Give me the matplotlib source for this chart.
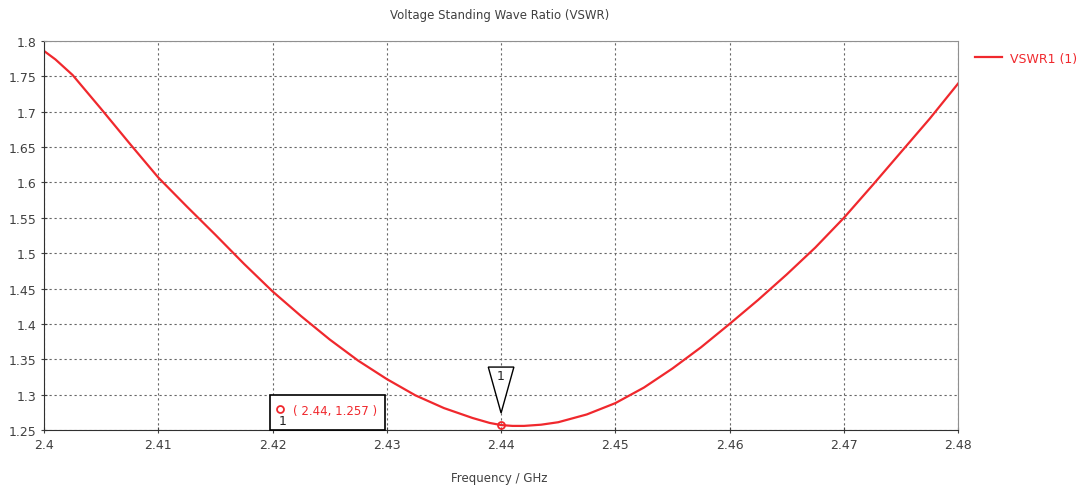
import numpy as np
import matplotlib
matplotlib.use('Agg')
from matplotlib import pyplot as plt
from matplotlib.patches import Polygon, Rectangle

# VSWR sweep of port 1
freq_ghz = [2.400, 2.401, 2.4025, 2.405, 2.4075, 2.410, 2.4125, 2.415, 2.4175,
            2.420, 2.4225, 2.425, 2.4275, 2.430, 2.4325, 2.435, 2.4375,
            2.439, 2.440, 2.441, 2.442, 2.4435, 2.445, 2.4475, 2.450, 2.4525,
            2.455, 2.4575, 2.460, 2.4625, 2.465, 2.4675, 2.470, 2.4725,
            2.475, 2.4775, 2.480]
vswr = [1.786, 1.774, 1.752, 1.704, 1.655, 1.607, 1.566, 1.526, 1.485,
        1.446, 1.411, 1.378, 1.348, 1.322, 1.299, 1.281, 1.267,
        1.260, 1.257, 1.2558, 1.2558, 1.2575, 1.261, 1.272, 1.288, 1.310,
        1.337, 1.367, 1.400, 1.434, 1.470, 1.508, 1.550, 1.596,
        1.643, 1.690, 1.740]

marker_f = 2.44
marker_v = 1.257

x_ticks = [2.40, 2.41, 2.42, 2.43, 2.44, 2.45, 2.46, 2.47, 2.48]
x_labels = ['2.4', '2.41', '2.42', '2.43', '2.44', '2.45', '2.46', '2.47', '2.48']
y_ticks = [1.25, 1.3, 1.35, 1.4, 1.45, 1.5, 1.55, 1.6, 1.65, 1.7, 1.75, 1.8]
y_labels = ['1.25', '1.3', '1.35', '1.4', '1.45', '1.5', '1.55', '1.6', '1.65',
            '1.7', '1.75', '1.8']

plt.rcParams['font.family'] = ['DejaVu Sans']
red = '#f0282d'
txt = '#404040'

fig = plt.figure(figsize=(10.79, 4.89), dpi=100)
ax = fig.add_axes([0.0408, 0.1186, 0.8472, 0.7954])

ax.plot(freq_ghz, vswr, color=red, lw=1.6, label='VSWR1 (1)')
ax.plot([marker_f], [marker_v], 'o', ms=5, mfc='none', mec=red, mew=1.3,
        zorder=7)

ax.set_xlim(2.40, 2.48)
ax.set_ylim(1.25, 1.80)
ax.set_xticks(x_ticks)
ax.set_xticklabels(x_labels)
ax.set_yticks(y_ticks)
ax.set_yticklabels(y_labels)
ax.tick_params(labelsize=9, colors=txt, length=4, direction='inout', width=0.8)
ax.grid(True, color='#666666', ls=(0, (2, 2.5)), lw=0.8)

for side in ('top', 'right'):
    ax.spines[side].set_color('#909090')
for side in ('bottom', 'left'):
    ax.spines[side].set_color('#303030')

fig.text(0.463, 0.968, 'Voltage Standing Wave Ratio (VSWR)', ha='center',
         va='center', fontsize=8.5, color=txt)
fig.text(0.463, 0.022, 'Frequency / GHz', ha='center', va='center',
         fontsize=8.5, color=txt)

# marker flag above the minimum
tri = Polygon([(2.43888, 1.339), (2.44112, 1.339), (2.44, 1.274)],
              closed=True, fc='white', ec='black', lw=1.0, zorder=5)
ax.add_patch(tri)
ax.text(2.44, 1.327, '1', ha='center', va='center', fontsize=9,
        color='#222222', zorder=6)

# marker readout box
box = Rectangle((2.4198, 1.2505), 0.0100, 0.0497, fc='white', ec='black',
                lw=1.2, zorder=5, clip_on=False)
ax.add_patch(box)
ax.plot([2.42066], [1.279], 'o', ms=5, mfc='none', mec=red, mew=1.3, zorder=6)
ax.text(2.4209, 1.264, '1', ha='center', va='center', fontsize=9,
        color='#222222', zorder=6)
ax.text(2.4218, 1.277, '( 2.44, 1.257 )', ha='left', va='center',
        fontsize=8.5, color=red, zorder=6)

leg = fig.legend(loc='upper left', bbox_to_anchor=(0.893, 0.915), frameon=False,
                 fontsize=9, handlelength=2.2, handletextpad=0.6)
for t in leg.get_texts():
    t.set_color(red)

fig.savefig('out.png', dpi=100)
